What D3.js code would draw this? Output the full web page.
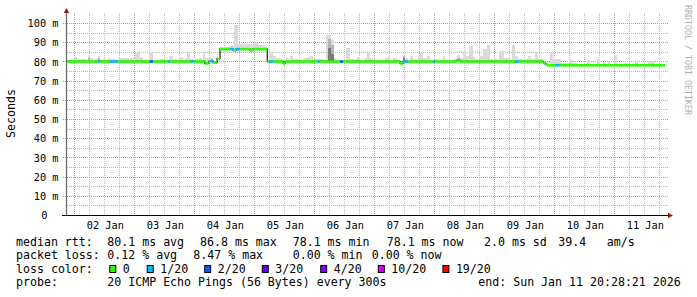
<!DOCTYPE html>
<html>
<head>
<meta charset="utf-8">
<script src="https://cdn.jsdelivr.net/npm/d3@7"></script>
<style>
  html, body { margin: 0; padding: 0; background: #fff; }
  svg { display: block; }
  text { font-family: "DejaVu Sans Mono", monospace; white-space: pre; }
</style>
</head>
<body>
<svg id="chart" width="697" height="297"></svg>
<script>
// ---------------- DATA ----------------
// time values are hours since 2026-01-01 21:00 UTC
const chartStartUTC = Date.UTC(2026, 0, 1, 21, 0, 0);
const chartHours = 240;

// median rtt (ms), stepped segments
const medT    = [0, 12.5, 13.3, 17.4, 20.5, 33.2, 34.5, 40.5, 41.2, 49.6, 50.9, 55.2, 56.8, 57.3, 58.5, 60.1, 61.3, 65.3, 66.5, 67.7, 69.3, 73.3, 74.5, 80.2, 80.9, 82.5, 86.5, 87.3, 100.5, 101.3, 109.3, 110.5, 133.3, 134.5, 136.5, 146.5, 147.3, 156.1, 157.3, 179.3, 180.9, 190.5, 191.3, 192.1, 195.3, 197.3];
const medV    = [80.0, 80.0, 80.0, 80.0, 80.0, 80.0, 80.0, 80.0, 80.0, 80.0, 80.0, 79.0, 80.0, 80.3, 79.5, 81.5, 86.5, 86.5, 85.9, 86.5, 86.5, 85.9, 86.5, 80.0, 80.0, 80.0, 79.0, 80.0, 80.0, 80.0, 80.0, 80.0, 79.0, 80.0, 80.0, 80.0, 80.0, 80.5, 80.0, 80.0, 80.0, 79.3, 78.6, 78.1, 78.1, 78.1];
const medLoss = [0, 1, 0, 1, 0, 2, 0, 1, 0, 1, 0, 0, 0, 1, 0, 0, 0, 1, 0, 1, 0, 0, 0, 0, 1, 0, 0, 0, 1, 0, 2, 0, 0, 1, 0, 1, 0, 0, 0, 1, 0, 0, 0, 0, 1, 0];
const medEnd  = 239.3;

// smoke (max ping, ms) bars: start hour, end hour, top value
const smokeStart = [0, 2.9, 4.5, 8.5, 9.3, 11.3, 12.5, 13.3, 16.5, 17.3, 20.9, 25.3, 27.3, 28.5, 29.3, 32.9, 37.3, 40.9, 42.5, 44.9, 47.3, 48.1, 49.3, 52.9, 54.5, 55.3, 61.3, 64.9, 66.9, 68.5, 74.5, 76.5, 79.3, 80.9, 82.5, 83.7, 85.3, 87.7, 89.3, 90.5, 94.5, 96.1, 97.3, 99.3, 103.7, 104.5, 105.7, 106.9, 111.7, 113.3, 116.1, 119.3, 120.1, 121.3, 127.3, 128.5, 130.5, 134.5, 135.3, 137.3, 138.5, 140.5, 141.3, 142.5, 144.1, 147.3, 150.5, 154.5, 156.1, 157.3, 158.5, 159.7, 160.9, 162.5, 163.3, 165.3, 166.5, 168.1, 169.3, 171.3, 172.9, 174.9, 178.1, 179.3, 180.5, 184.5, 185.7, 187.3, 188.5, 193.3, 194.5, 196.1, 197.7, 200.9, 202.5, 208.1, 212.1, 214.5, 216.5, 218.9, 223.3, 227.3, 232.5];
const smokeEnd   = [2.9, 4.1, 8.1, 9.3, 10.5, 12.5, 13.3, 16.5, 17.3, 20.1, 24.9, 27.3, 28.5, 29.3, 30.5, 34.5, 38.9, 42.5, 44.1, 46.5, 48.1, 49.3, 52.9, 54.1, 55.3, 58.5, 64.9, 66.9, 68.5, 74.5, 76.5, 79.3, 80.1, 82.5, 83.7, 85.3, 86.5, 88.9, 90.5, 93.3, 96.1, 97.3, 98.5, 103.3, 104.5, 105.7, 106.9, 107.7, 113.3, 116.1, 117.3, 120.1, 121.3, 122.5, 128.5, 129.3, 132.1, 135.3, 136.5, 138.5, 140.1, 141.3, 142.5, 144.1, 145.3, 148.5, 151.3, 156.1, 157.3, 158.5, 159.7, 160.9, 162.5, 163.3, 164.5, 166.5, 168.1, 169.3, 170.5, 172.5, 174.9, 177.3, 179.3, 180.5, 184.5, 185.7, 187.3, 188.5, 190.5, 194.5, 196.1, 197.7, 200.9, 202.5, 204.1, 209.3, 213.3, 215.3, 217.3, 220.1, 224.5, 228.5, 235.3];
const smokeTop   = [80.7, 82.1, 81.5, 83.3, 82.0, 81.5, 82.8, 80.8, 82.0, 81.5, 81.8, 82.0, 84.2, 85.4, 82.2, 84.7, 81.5, 82.8, 81.3, 82.4, 81.8, 84.2, 81.3, 81.8, 85.1, 81.8, 87.7, 88.0, 99.0, 88.9, 89.4, 88.5, 87.7, 85.0, 82.8, 81.8, 81.3, 81.8, 82.6, 81.3, 81.8, 82.2, 82.6, 81.3, 93.7, 93.7, 91.1, 81.8, 86.8, 81.3, 82.2, 81.8, 84.2, 81.8, 81.8, 82.6, 81.8, 82.8, 81.8, 82.8, 81.3, 82.6, 84.2, 81.8, 82.8, 81.3, 82.6, 81.3, 83.3, 81.8, 84.2, 82.8, 88.0, 82.2, 81.3, 82.6, 86.3, 88.5, 81.3, 81.3, 85.4, 81.8, 88.5, 82.6, 81.3, 82.8, 81.0, 85.0, 81.3, 84.2, 81.3, 81.3, 79.3, 80.6, 79.3, 80.6, 81.0, 79.7, 79.7, 83.3, 79.3, 80.6, 80.0];

// denser smoke (more pings near median)
const midSmokeStart = [8.5, 12.5, 104.5, 105.7, 134.5, 156.1];
const midSmokeEnd   = [9.3, 13.3, 105.7, 106.9, 135.3, 157.3];
const midSmokeTop   = [81.8, 81.8, 91.5, 88.5, 82.8, 81.8];
const darkSmokeStart = [104.5, 105.7, 134.5];
const darkSmokeEnd   = [105.7, 106.9, 135.3];
const darkSmokeTop   = [87.0, 84.0, 81.8];

// axes
const yTicks = [0, 10, 20, 30, 40, 50, 60, 70, 80, 90, 100];
const yTickLabels = ["0", "10 m", "20 m", "30 m", "40 m", "50 m", "60 m", "70 m", "80 m", "90 m", "100 m"];
const yMinorTicks = [5, 15, 25, 35, 45, 55, 65, 75, 85, 95];
const yLabel = "Seconds";

// loss legend
const lossLevels = [0, 1, 2, 3, 4, 10, 19];
const lossLabels = ["0", "1/20", "2/20", "3/20", "4/20", "10/20", "19/20"];
const lossColors = ["#26ff00", "#00b8ff", "#0059ff", "#5e00ff", "#7e00ff", "#dd00ff", "#ff0000"];

// legend texts
const rttLabel = "median rtt:";
const rttStats = ["80.1 ms avg", "86.8 ms max", "78.1 ms min", "78.1 ms now", "2.0 ms sd", "39.4", "am/s"];
const lossLabel = "packet loss:";
const lossStats = ["0.12 % avg", "8.47 % max", "0.00 % min", "0.00 % now"];
const colorLabel = "loss color:";
const probeLabel = "probe:";
const probeText = "20 ICMP Echo Pings (56 Bytes) every 300s";
const endText = "end: Sun Jan 11 20:28:21 2026";
const watermark = "RRDTOOL / TOBI OETIKER";

// ---------------- DRAW ----------------
const svg = d3.select("#chart");
svg.append("rect").attr("width", 697).attr("height", 297).attr("fill", "#fff");

const toDate = h => new Date(chartStartUTC + h * 3600e3);
const x = d3.scaleUtc().domain([toDate(0), toDate(chartHours)]).range([66.8, 666.8]);
const tx = h => x(toDate(h));
const y = d3.scaleLinear().domain([0, 100]).range([215, 23]);

const plotLeft = 67, plotRight = 668, plotTop = 13, plotBottom = 215;
const px = v => Math.round(v) + 0.5;

// grid
const grid = svg.append("g").attr("shape-rendering", "crispEdges");
const xEnd = x.invert(plotRight);
d3.utcHour.every(6).range(x.domain()[0], xEnd).forEach(d => {
  if (d.getUTCHours() === 0) return;
  grid.append("line").attr("x1", px(x(d))).attr("x2", px(x(d)))
    .attr("y1", plotTop).attr("y2", plotBottom)
    .attr("stroke", "#b8b8b8").attr("stroke-dasharray", "1,1");
});
yMinorTicks.forEach(v => {
  grid.append("line").attr("x1", plotLeft).attr("x2", plotRight)
    .attr("y1", px(y(v))).attr("y2", px(y(v)))
    .attr("stroke", "#b8b8b8").attr("stroke-dasharray", "1,1");
});
d3.utcDay.range(x.domain()[0], xEnd).forEach(d => {
  grid.append("line").attr("x1", px(x(d))).attr("x2", px(x(d)))
    .attr("y1", plotTop).attr("y2", plotBottom)
    .attr("stroke", "#e08a8a").attr("stroke-dasharray", "1,1");
});
yTicks.filter(v => v > 0).forEach(v => {
  grid.append("line").attr("x1", 63).attr("x2", plotRight)
    .attr("y1", px(y(v))).attr("y2", px(y(v)))
    .attr("stroke", "#e08a8a").attr("stroke-dasharray", "1,1");
});

// smoke
const medianAt = h => medV[Math.max(0, d3.bisectRight(medT, h) - 1)];
function smokeLayer(starts, ends, tops, color) {
  svg.append("g").attr("shape-rendering", "crispEdges")
    .selectAll("rect").data(starts.map((s, i) => ({ s, e: ends[i], t: tops[i] })))
    .join("rect")
    .attr("x", d => tx(d.s))
    .attr("width", d => Math.max(1, tx(d.e) - tx(d.s)))
    .attr("y", d => y(d.t))
    .attr("height", d => Math.max(0, y(Math.min(medianAt(d.s), medianAt((d.s + d.e) / 2))) - y(d.t) + 1))
    .attr("fill", color);
}
smokeLayer(smokeStart, smokeEnd, smokeTop, "#dadada");
smokeLayer(midSmokeStart, midSmokeEnd, midSmokeTop, "#b4b4b4");
smokeLayer(darkSmokeStart, darkSmokeEnd, darkSmokeTop, "#7a7a7a");

// median black line
const pts = medT.map((t, i) => [t, medV[i]]);
pts.push([medEnd, medV[medV.length - 1]]);
svg.append("path")
  .attr("d", d3.line().x(d => tx(d[0])).y(d => y(d[1])).curve(d3.curveStepAfter)(pts))
  .attr("fill", "none").attr("stroke", "#202020").attr("stroke-width", 1.2);

// loss-coloured bands
const lossColor = l => {
  let c = lossColors[0];
  lossLevels.forEach((lv, i) => { if (l >= lv) c = lossColors[i]; });
  return c;
};
svg.append("g").selectAll("rect")
  .data(medT.map((t, i) => ({ t0: t, t1: i + 1 < medT.length ? medT[i + 1] : medEnd, v: medV[i], l: medLoss[i] })))
  .join("rect")
  .attr("x", d => tx(d.t0))
  .attr("width", d => tx(d.t1) - tx(d.t0))
  .attr("y", d => y(d.v) - 1.1)
  .attr("height", 2.6)
  .attr("fill", d => lossColor(d.l));

// axes
const yAxis = d3.axisLeft(y).tickValues(yTicks).tickFormat((d, i) => yTickLabels[i]).tickSize(0).tickPadding(8);
const gy = svg.append("g").attr("transform", "translate(66.5,0)").call(yAxis);
gy.select(".domain").remove();
gy.selectAll("text").attr("font-family", "DejaVu Sans Mono").attr("font-size", "10.3px").attr("fill", "#000")
  .attr("dy", "0.35em")
  .attr("x", d => d === 0 ? -19 : -8);

const noonTicks = d3.utcDay.range(d3.utcDay.ceil(x.domain()[0]), xEnd).map(d => d3.utcHour.offset(d, 12));
const xAxis = d3.axisBottom(x).tickValues(noonTicks).tickFormat(d3.utcFormat("%d %b")).tickSize(0).tickPadding(7);
const gx = svg.append("g").attr("transform", "translate(0.5,215)").call(xAxis);
gx.select(".domain").remove();
gx.selectAll("text").attr("font-family", "DejaVu Sans Mono").attr("font-size", "10.3px").attr("fill", "#000");

// axis lines + arrows
svg.append("line").attr("x1", 66.5).attr("x2", 66.5).attr("y1", 215).attr("y2", 11)
  .attr("stroke", "#6e6e6e").attr("stroke-width", 1.3);
svg.append("line").attr("x1", 62).attr("x2", 669).attr("y1", 215.5).attr("y2", 215.5)
  .attr("stroke", "#000").attr("stroke-width", 1);
svg.append("path").attr("d", "M63.8,13 L69.2,13 L66.5,8 Z").attr("fill", "#8b1c1c");
svg.append("path").attr("d", "M668,212.8 L668,218.2 L673,215.5 Z").attr("fill", "#8b1c1c");

// y label
svg.append("text").attr("transform", "translate(15,113.5) rotate(-90)")
  .attr("text-anchor", "middle").attr("font-size", "11.6px").attr("fill", "#000").text(yLabel);

// watermark
svg.append("text").attr("transform", "translate(685.3,5) rotate(90)")
  .attr("font-size", "8.3px").attr("fill", "#b0b0b0").text(watermark);

// legend
const fs = "11.6px";
const row = [245.6, 259.2, 272.8, 286.4];
const leg = svg.append("g").attr("font-size", fs).attr("fill", "#000");
const put = (tx_, ty, s) => leg.append("text").attr("x", tx_).attr("y", ty).text(s);

put(16, row[0], rttLabel);
[107.3, 200, 292.7, 386.7, 484, 558.3, 606.7].forEach((xx, i) => put(xx, row[0], rttStats[i]));
put(16, row[1], lossLabel);
[107.3, 193.3, 292.7, 371.7].forEach((xx, i) => put(xx, row[1], lossStats[i]));
put(16, row[2], colorLabel);
const boxX = [109.3, 146.7, 204.2, 261.8, 320.2, 377.8, 442.4];
lossLabels.forEach((lab, i) => {
  leg.append("rect").attr("x", boxX[i] + 0.5).attr("y", 265.5).attr("width", 6).attr("height", 7)
    .attr("fill", lossColors[i]).attr("stroke", "#000").attr("stroke-width", 1);
  put(boxX[i] + 13.5, row[2], lab);
});
put(16, row[3], probeLabel);
put(107.3, row[3], probeText);
put(478.3, row[3], endText);
</script>
</body>
</html>
